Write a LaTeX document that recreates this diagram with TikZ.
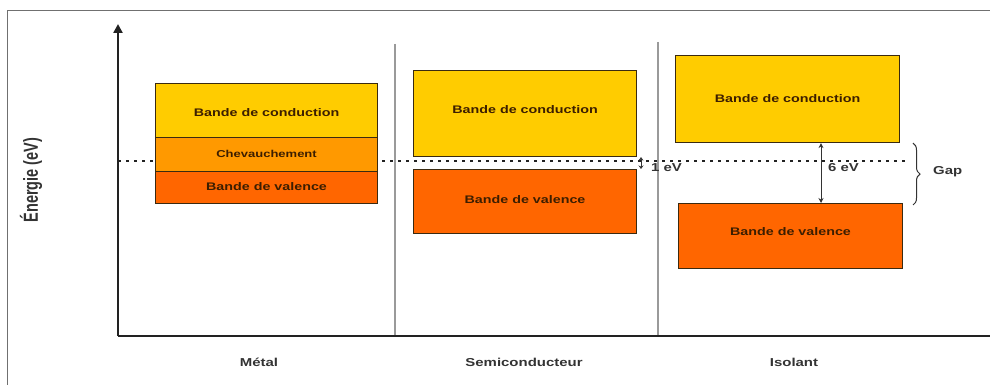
\documentclass[tikz,border=0pt]{standalone}
\usepackage{fontspec}
\usepackage{graphicx}
\setmainfont{Liberation Sans}[FakeStretch=1.3]
\newfontfamily\plainfont{Liberation Sans}
\usetikzlibrary{arrows.meta,decorations.pathreplacing}
\definecolor{cyel}{HTML}{FFCC00}
\definecolor{cora}{HTML}{FF9900}
\definecolor{cval}{HTML}{FF6600}
\definecolor{ctxt}{HTML}{3C1E00}
\definecolor{cedge}{HTML}{3A2A10}
\definecolor{caxis}{HTML}{222222}
\definecolor{cdiv}{HTML}{9A9A9A}
\definecolor{cframe}{HTML}{707070}
\definecolor{clab}{HTML}{333333}
\tikzset{
  band/.style={draw=cedge, line width=1.1pt, anchor=north west, inner sep=0pt,
    font=\fontsize{11}{13}\selectfont\bfseries, text=ctxt},
  bandtext/.style={inner sep=0pt, anchor=center,
    font=\fontsize{11}{13}\selectfont\bfseries, text=ctxt},
  axlabel/.style={font=\fontsize{11.5}{13}\selectfont\bfseries, text=clab, inner sep=0pt},
  gaplabel/.style={font=\fontsize{11.5}{13}\selectfont\bfseries, text=clab, inner sep=0pt},
  gaparrow/.style={draw=clab, line width=1pt, {Stealth[length=5pt,width=5pt]}-{Stealth[length=5pt,width=5pt]}},
  divider/.style={draw=cdiv, line width=1.4pt},
}
\begin{document}
\begin{tikzpicture}[x=1pt,y=-1pt]
\useasboundingbox (0,0) rectangle (990,385);
% frame
\draw[cframe, line width=0.9pt] (7,390) -- (7,10) -- (995,10);
% dividers
\coordinate (d1t) at (395,44);
\coordinate (d2t) at (658,42);
\coordinate (org) at (118,336);
\coordinate (xend) at (995,336);
\coordinate (ytop) at (118,24);
\draw[divider] (d1t) -- (d1t |- org);
\draw[divider] (d2t) -- (d2t |- org);
% dashed Fermi line
\coordinate (fl) at (118,161);
\coordinate (fr) at (905,161);
\draw[caxis, line width=1.2pt, dash pattern=on 3pt off 5pt] (fl) -- (fr);
% bands: metal
\node[band, fill=cyel, minimum width=222pt, minimum height=54pt] (mc) at (155,83) {};
\node[band, fill=cora, minimum width=222pt, minimum height=34pt] (mo) at (155,137) {};
\node[band, fill=cval, minimum width=222pt, minimum height=32pt] (mv) at (155,171) {};
\node[bandtext] (mct) at ([yshift=-2pt]mc.center) {Bande de conduction};
\node[bandtext, font=\fontsize{10}{12}\selectfont\bfseries] (mot) at ([yshift=1pt]mo.center) {Chevauchement};
\node[bandtext] (mvt) at ([yshift=1pt]mv.center) {Bande de valence};
% semiconductor
\node[band, fill=cyel, minimum width=223pt, minimum height=86pt] (sc) at (413,70) {};
\node[band, fill=cval, minimum width=223pt, minimum height=64pt] (sv) at (413,169) {};
\node[bandtext] (sct) at ([yshift=4pt]sc.center) {Bande de conduction};
\node[bandtext] (svt) at ([yshift=2pt]sv.center) {Bande de valence};
% insulator
\node[band, fill=cyel, minimum width=224pt, minimum height=87pt] (ic) at (675,55) {};
\node[band, fill=cval, minimum width=224pt, minimum height=65pt] (iv) at (678,203) {};
\node[bandtext] (ict) at (ic.center) {Bande de conduction};
\node[bandtext] (ivt) at ([yshift=4pt]iv.center) {Bande de valence};
% axes
\draw[caxis, line width=2.4pt] (xend) -- (org);
\draw[caxis, line width=2.4pt, -{Triangle[length=9pt,width=9pt]}] (org) -- (ytop);
% gap arrows
\coordinate (a1) at (641,0);
\coordinate (a6) at (821,0);
\draw[gaparrow, line width=0.8pt, {Stealth[length=3.5pt,width=5pt]}-{Stealth[length=3.5pt,width=5pt]}] (sc.south -| a1) -- (sv.north -| a1);
\draw[gaparrow] (ic.south -| a6) -- (iv.north -| a6);
\node[gaplabel, anchor=west] (l1) at (651,168) {1 eV};
\node[gaplabel, anchor=west] (l6) at (828,168) {6 eV};
% brace
\coordinate (b) at (913,0);
\draw[clab, line width=1pt, decorate, decoration={brace, amplitude=7pt}] (ic.south -| b) -- ([yshift=-2pt]iv.north -| b);
\node[gaplabel, anchor=west] (gap) at (933,172) {Gap};
% axis labels
\node[axlabel] (lm) at (259,362) {Métal};
\node[axlabel] (ls) at (524,362) {Semiconducteur};
\node[axlabel] (li) at (794,362) {Isolant};
\node[inner sep=0pt, rotate=90, text=clab] (ly) at (31,180) {\scalebox{1}[1.4]{\plainfont\bfseries\fontsize{14.5}{16}\selectfont Énergie (eV)}};
\end{tikzpicture}
\end{document}
